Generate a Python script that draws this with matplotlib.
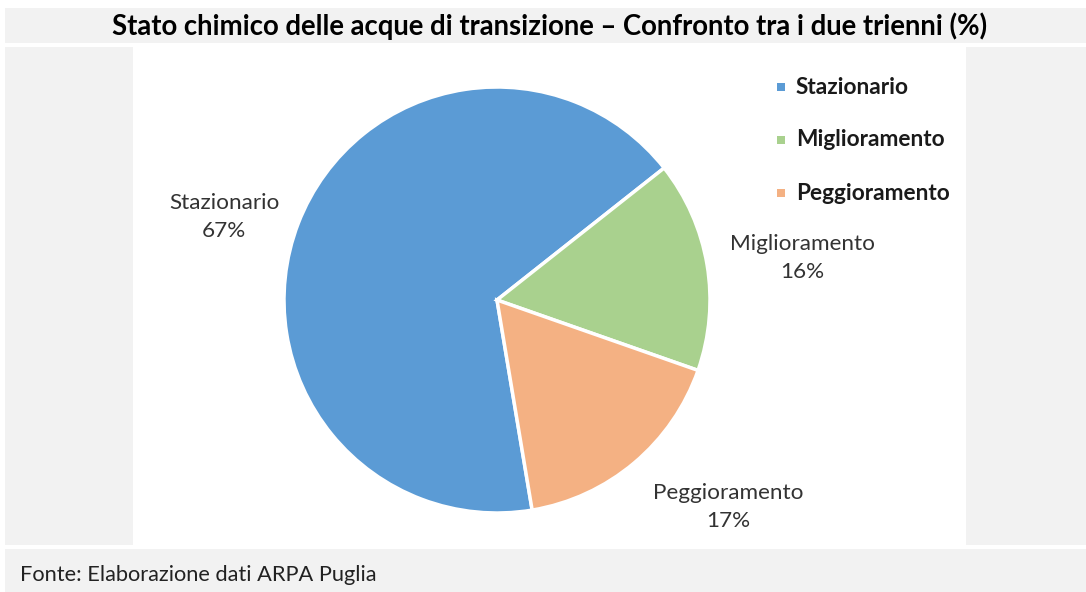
import matplotlib
matplotlib.use("Agg")
import matplotlib.pyplot as plt
from matplotlib.patches import Rectangle

plt.rcParams['font.family'] = ['Lato', 'DejaVu Sans']

# ---- data ----
title = "Stato chimico delle acque di transizione \u2013 Confronto tra i due trienni (%)"
source = "Fonte: Elaborazione dati ARPA Puglia"
categories = ["Stazionario", "Miglioramento", "Peggioramento"]
values = [67, 16, 17]
colors = ["#5B9BD5", "#A9D18E", "#F4B183"]

W, H = 1086, 592
fig = plt.figure(figsize=(W / 100, H / 100), dpi=100)
ax = fig.add_axes([0, 0, 1, 1])
ax.set_xlim(0, W)
ax.set_ylim(0, H)
ax.set_aspect('equal')
ax.axis('off')

def Y(y):
    return H - y

gray = "#F2F2F2"
# title band
ax.add_patch(Rectangle((5, Y(43)), W - 5, 35, facecolor=gray, edgecolor='none', zorder=0))
# main band
ax.add_patch(Rectangle((5, Y(545)), W - 5, 498, facecolor=gray, edgecolor='none', zorder=0))
# white panel
ax.add_patch(Rectangle((133, Y(545)), 833, 498, facecolor='white', edgecolor='none', zorder=0.5))
# source band
ax.add_patch(Rectangle((5, 0), W - 5, H - 549, facecolor=gray, edgecolor='none', zorder=0))

ax.text(550, Y(26), title, ha='center', va='center', fontsize=19.8,
        fontweight='bold', color='black')
ax.text(20, Y(575), source, ha='left', va='center', fontsize=15.7, color='#222222')

# pie
cx, cy, r = 497, Y(300), 213
wedges, _ = ax.pie(values, colors=colors, startangle=-80.5, counterclock=False,
                   center=(cx, cy), radius=r, frame=True,
                   wedgeprops=dict(edgecolor='white', linewidth=2.5))
ax.set_xlim(0, W)
ax.set_ylim(0, H)
ax.axis('off')

label_pos = [(224, 217), (802, 258), (728, 507)]
for cat, v, (lx, ly) in zip(categories, values, label_pos):
    ax.text(lx, Y(ly), f"{cat}\n{v}%", ha='center', va='center', fontsize=16.2,
            color='#333333', linespacing=1.45)

# legend
leg_y = [87, 140, 193]
for cat, c, ly in zip(categories, colors, leg_y):
    ax.add_patch(Rectangle((777, Y(ly) - 4), 8, 8, facecolor=c, edgecolor='none'))
    ax.text(796, Y(ly), cat, ha='left', va='center', fontsize=16.3, fontweight='bold',
            color='#1a1a1a')

fig.savefig("out.png", dpi=100)
